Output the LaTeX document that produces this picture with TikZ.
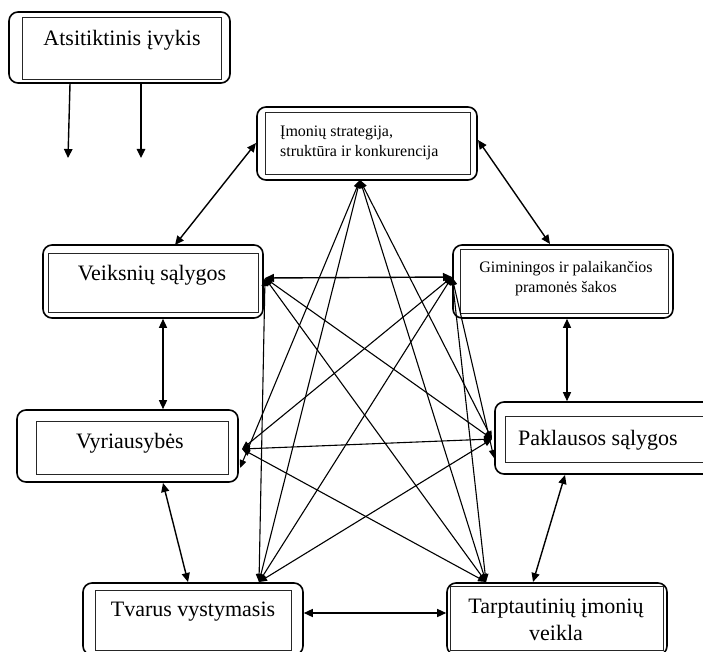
\documentclass[tikz,border=0pt]{standalone}
\usepackage{fontspec}
\setmainfont{Liberation Serif}
\usetikzlibrary{arrows.meta,fit}
\begin{document}
\begin{tikzpicture}[x=1pt,y=-1pt,
  obox/.style={draw=black, line width=1.6pt, rounded corners=9pt, inner sep=0pt},
  ibox/.style={draw=black!85, line width=0.8pt, inner sep=0pt},
  big/.style={font=\fontsize{22}{27}\selectfont, inner sep=0pt},
  small/.style={font=\fontsize{16}{20}\selectfont, inner sep=0pt},
  link/.style={line width=1.4pt, {Triangle[length=9pt,width=8pt]}-{Triangle[length=9pt,width=8pt]}},
  cross/.style={line width=1.1pt, {Triangle[length=8pt,width=6.5pt]}-{Triangle[length=8pt,width=6.5pt]}},
  downarr/.style={line width=1.4pt, -{Triangle[length=9pt,width=8.5pt]}}]
\useasboundingbox[fill=white] (0,0) rectangle (703,652);

% boxes
\node[obox, fit={(9,12) (230,83)}] (A) {};
\node[ibox, fit={(22,17) (221,79)}] (Ai) {};
\node[big, anchor=base] (At) at (122,46) {Atsitiktinis įvykis};

\node[obox, fit={(257,107) (477,180)}] (I) {};
\node[ibox, fit={(265,112) (470,174)}] (Ii) {};
\node[small, anchor=west, align=left] (It) at (280,142.8) {Įmonių strategija,\\struktūra ir konkurencija};

\node[obox, fit={(43,245) (263,318)}] (V) {};
\node[ibox, fit={(48,253) (258,312)}] (Vi) {};
\node[big, anchor=base] (Vt) at (152,280) {Veiksnių sąlygos};

\node[obox, fit={(453,245) (673,318)}] (G) {};
\node[ibox, fit={(460,249) (668,313)}] (Gi) {};
\node[small, align=center] (Gt) at (566,278.3) {Giminingos ir palaikančios\\pramonės šakos};

\node[obox, fit={(17,410) (238,482)}] (Y) {};
\node[ibox, fit={(36,421) (228,474)}] (Yi) {};
\node[big, anchor=base] (Yt) at (130,448) {Vyriausybės};

\node[obox, fit={(495,402) (712,474)}] (P) {};
\node[ibox, fit={(505,416) (706,462)}] (Pi) {};
\node[big, anchor=base west] (Pt) at (518,445) {Paklausos sąlygos};

\node[obox, fit={(83,583) (303,655)}] (T) {};
\node[ibox, fit={(95,590) (291,650)}] (Ti) {};
\node[big, anchor=base] (Tt) at (193,616.5) {Tvarus vystymasis};

\node[obox, fit={(447,583) (667,655)}] (R) {};
\node[ibox, fit={(450,586) (663,650)}] (Ri) {};
\node[big, align=center] (Rt) at (556,620) {Tarptautinių įmonių\\veikla};

% hubs
\coordinate (Ib) at (360,180);
\coordinate (Vr) at (265,278);
\coordinate (Gl) at (452,277);
\coordinate (Yu) at (242,449);
\coordinate (Yl) at (240,468);
\coordinate (Pu) at (492,439);
\coordinate (Pl) at (494,458);
\coordinate (Tt1) at (259,582);
\coordinate (Rt1) at (486,582);
\coordinate (d1) at (68,158);
\coordinate (d2) at (141,158);

% arrows from the random event
\draw[downarr] (A.south -| 70,0) -- (d1);
\draw[downarr] (A.south -| 141,0) -- (d2);

% main links
\draw[link] (175,245) -- (256,143);
\draw[link] (478,140) -- (550,244);
\draw[link] (V.south -| 163,0) -- (Y.north -| 163,0);
\draw[link] (G.south -| 567,0) -- (P.north -| 567,0);
\draw[link] (163,483) -- (188,582);
\draw[link] (565,475) -- (533,582);
\draw[link] (T.east |- 0,613) -- (R.west |- 0,613);
\draw[link] (Vr) -- (Gl);

% crossing links
\draw[cross] (Ib) -- (Yl);
\draw[cross] (Ib) -- (Tt1);
\draw[cross] (Ib) -- (Rt1);
\draw[cross] (Ib) -- (Pu);
\draw[cross] (Vr) -- (Tt1);
\draw[cross] (Vr) -- (Rt1);
\draw[cross] (Vr) -- (Pu);
\draw[cross] (Gl) -- (Yu);
\draw[cross] (Gl) -- (Tt1);
\draw[cross] (Gl) -- (Rt1);
\draw[cross] (Gl) -- (Pl);
\draw[cross] (Yu) -- (Pu);
\draw[cross] (Yu) -- (Rt1);
\draw[cross] (Pu) -- (Tt1);
\end{tikzpicture}
\end{document}
